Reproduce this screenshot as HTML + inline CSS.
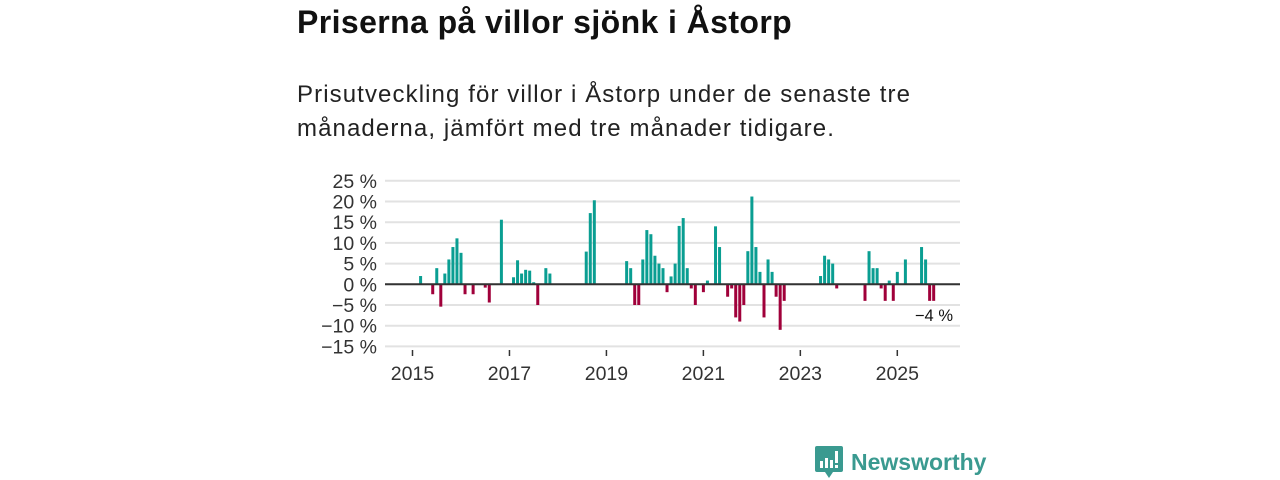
<!DOCTYPE html>
<html><head><meta charset="utf-8"><style>
body{margin:0;width:1280px;height:480px;background:#fff;font-family:"Liberation Sans","DejaVu Sans",sans-serif;overflow:hidden;position:relative}
#title{position:absolute;left:297px;top:4px;font-size:32px;font-weight:bold;color:#111;margin:0;letter-spacing:0.4px}
#sub{position:absolute;left:297px;top:78px;font-size:24px;letter-spacing:1.1px;line-height:34px;color:#222;width:640px}
svg{position:absolute;left:0;top:0}
#logo{position:absolute;left:815px;top:446px;display:flex;align-items:center;gap:8px;color:#3a9a90;font-size:23px;font-weight:bold}
</style></head><body>
<h1 id="title">Priserna på villor sjönk i Åstorp</h1>
<div id="sub">Prisutveckling för villor i Åstorp under de senaste tre månaderna, jämfört med tre månader tidigare.</div>
<svg id="chart" width="1280" height="480"></svg>
<div id="logo"><svg width="28" height="32" viewBox="0 0 28 32" style="position:static"><path d="M2 0H26Q28 0 28 2V24Q28 26 26 26H18L14 32L10 26H2Q0 26 0 24V2Q0 0 2 0Z" fill="#3a9a90"/><rect x="5" y="15" width="3" height="7" fill="#fff"/><rect x="10" y="12" width="3" height="10" fill="#fff"/><rect x="15" y="14" width="3" height="8" fill="#fff"/><rect x="20" y="5" width="3" height="12" fill="#fff"/><rect x="20" y="19" width="3" height="3" fill="#fff"/></svg><span>Newsworthy</span></div>
<script>
const months=[2,5,6,7,8,9,10,11,12,13,15,18,19,22,25,26,27,28,29,30,31,33,34,43,44,45,53,54,55,56,57,58,59,60,61,62,63,64,65,66,67,68,69,70,72,73,75,76,78,79,80,81,82,83,84,85,86,87,88,89,90,91,92,101,102,103,104,105,112,113,114,115,116,117,118,119,120,122,126,127,128,129];
const values=[2,-2.4,3.9,-5.4,2.6,6,9,11.1,7.6,-2.4,-2.4,-0.8,-4.4,15.6,1.7,5.8,2.6,3.5,3.3,0.5,-5,3.9,2.6,7.9,17.2,20.3,5.6,3.9,-5,-5,6,13.1,12.1,6.9,5,3.9,-1.9,1.9,5,14.1,16,3.9,-1,-5,-1.9,0.9,14,9,-3,-1,-8,-9,-5,8,21.2,9,3,-8,6,3,-3,-11,-4,2,6.9,6,5,-1,-4,8,3.9,3.9,-1,-4,0.9,-4,3,6,9,6,-4,-4];
const yTicks=[25,20,15,10,5,0,-5,-10,-15];
const xTickYears=[2015,2017,2019,2021,2023,2025];
const NS='http://www.w3.org/2000/svg',svg=document.getElementById('chart');
const y=v=>284.3-v*4.14;
const x=d=>410.5+4.04*d;
function mk(t,a){const e=document.createElementNS(NS,t);for(const k in a)e.setAttribute(k,a[k]);svg.appendChild(e);return e;}
yTicks.forEach(v=>{
 const g=mk('line',{x1:385,x2:960,y1:y(v),y2:y(v),stroke:'#e2e2e2','stroke-width':2});
 
 
 const t=mk('text',{x:377,y:y(v)+7,'text-anchor':'end','font-size':19.5,fill:'#333'});
 t.textContent=(v<0?'\u2212'+(-v):v)+' %';
 
 
});
xTickYears.forEach(yr=>{
 const d=(yr-2015)*12;
 const l=mk('line',{x1:x(d)+2,x2:x(d)+2,y1:350,y2:356,stroke:'#333','stroke-width':1.5});
 
 
 const t=mk('text',{x:x(d)+2,y:380,'text-anchor':'middle','font-size':19.5,fill:'#333'});
 t.textContent=yr;
 
 
});
months.forEach((d,i)=>{
 const v=values[i];
 const r=mk('rect',{x:x(d+0.5)-1.5,width:3,y:Math.min(y(v),y(0)),height:Math.abs(y(v)-y(0)),fill:v>=0?'#0a9e92':'#a0003a'});
 
 
});
const z=mk('line',{x1:385,x2:960,y1:y(0),y2:y(0),stroke:'#333','stroke-width':2});


const lastV=values[values.length-1];
const lab=mk('text',{x:953,y:321,'text-anchor':'end','font-size':16.5,fill:'#111'});
lab.textContent=(lastV<0?'\u2212'+(-lastV):lastV)+' %';


</script>
</body></html>
